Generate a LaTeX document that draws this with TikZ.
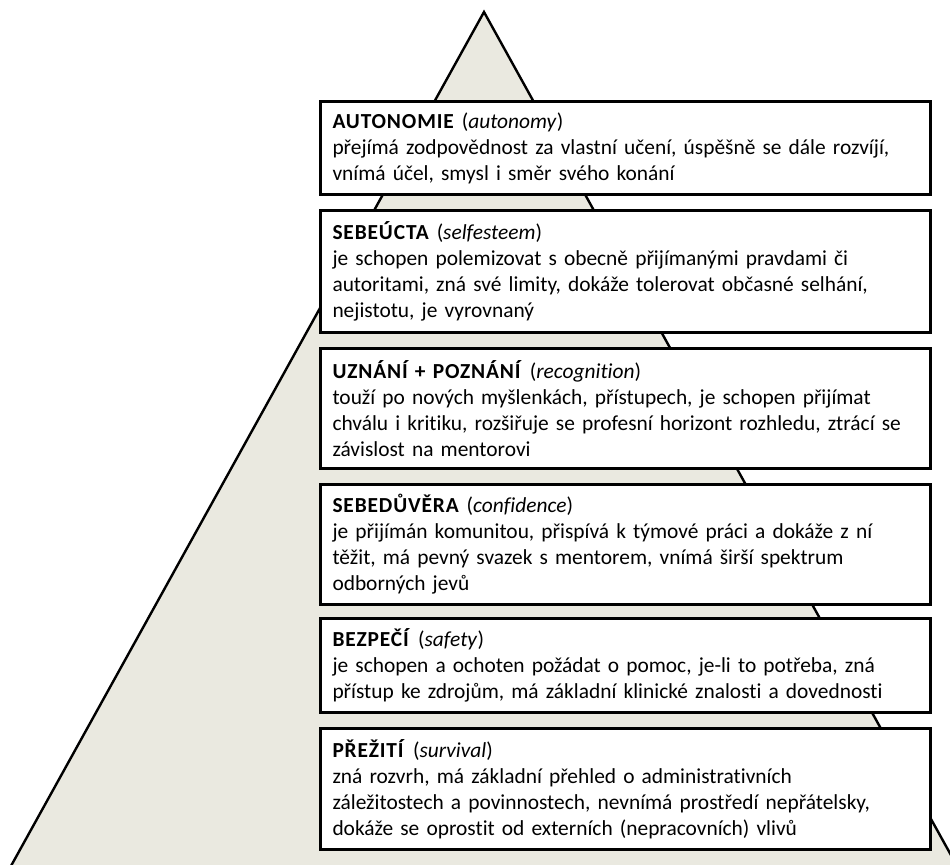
\documentclass[tikz,border=0pt]{standalone}
\usepackage{fontspec}
\setmainfont{Carlito}[Ligatures=NoCommon, WordSpace=0.9, BoldFeatures={LetterSpace=4}]
\definecolor{pyrfill}{RGB}{234,233,224}

\tikzset{
  level/.style={draw, line width=1.5pt, fill=white, anchor=north west,
    text width=293pt, inner xsep=6pt, inner ysep=2pt, align=left,
    font=\fontsize{10.7pt}{13pt}\selectfont},
}
\newcommand{\lvl}[2]{\textbf{#1} (\textit{#2})}

\begin{document}
\begin{tikzpicture}[x=0.5pt, y=-0.5pt]
  \useasboundingbox (0,0) rectangle (950,865);
  \clip (0,0) rectangle (950,865);
  % pyramid
  \coordinate (apex) at (484,12);
  \coordinate (baseL) at (6,875);
  \coordinate (baseR) at (962,875);
  \filldraw[fill=pyrfill, line width=1.2pt, line join=miter] (apex) -- (baseL) -- (baseR) -- cycle;

  % the six levels, top to bottom
  \node[level, minimum height=46.5pt] (autonomie) at (319,100) {\lvl{AUTONOMIE}{autonomy}\\
    přejímá zodpovědnost za vlastní učení, úspěšně se dále rozvíjí,\\
    vnímá účel, smysl i směr svého konání};
  \node[level, minimum height=61pt] (sebeucta) at (319,209) {\lvl{SEBEÚCTA}{selfesteem}\\
    je schopen polemizovat s obecně přijímanými pravdami či\\
    autoritami, zná své limity, dokáže tolerovat občasné selhání,\\
    nejistotu, je vyrovnaný};
  \node[level, minimum height=60pt] (uznani) at (319,347) {\lvl{UZNÁNÍ + POZNÁNÍ}{recognition}\\
    touží po nových myšlenkách, přístupech, je schopen přijímat\\
    chválu i kritiku, rozšiřuje se profesní horizont rozhledu, ztrácí se\\
    závislost na mentorovi};
  \node[level, minimum height=60pt] (sebeduvera) at (319,483) {\lvl{SEBEDŮVĚRA}{confidence}\\
    je přijímán komunitou, přispívá k týmové práci a dokáže z ní\\
    těžit, má pevný svazek s mentorem, vnímá širší spektrum\\
    odborných jevů};
  \node[level, minimum height=47pt] (bezpeci) at (319,617) {\lvl{BEZPEČÍ}{safety}\\
    je schopen a ochoten požádat o pomoc, je-li to potřeba, zná\\
    přístup ke zdrojům, má základní klinické znalosti a dovednosti};
  \node[level, minimum height=60.5pt] (preziti) at (319,727) {\lvl{PŘEŽITÍ}{survival}\\
    zná rozvrh, má základní přehled o administrativních\\
    záležitostech a povinnostech, nevnímá prostředí nepřátelsky,\\
    dokáže se oprostit od externích (nepracovních) vlivů};
\end{tikzpicture}
\end{document}
